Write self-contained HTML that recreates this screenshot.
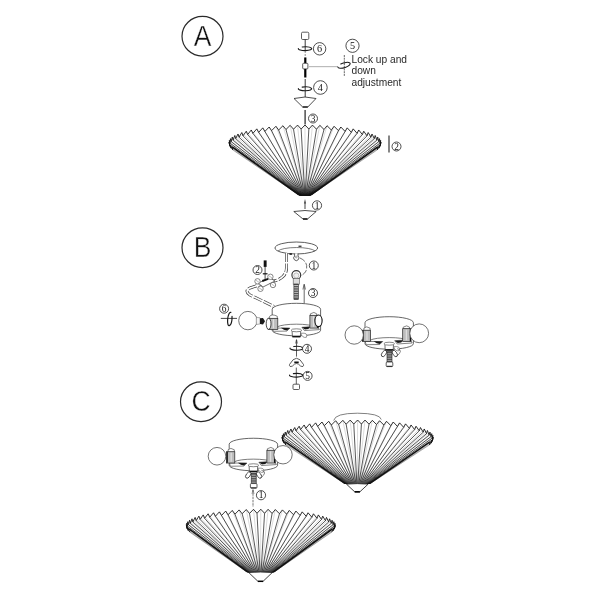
<!DOCTYPE html>
<html><head><meta charset="utf-8"><style>
html,body{margin:0;padding:0;background:#fff;width:600px;height:600px;overflow:hidden}
svg{display:block;will-change:transform}
</style></head><body>
<svg width="600" height="600" viewBox="0 0 600 600">
<defs><linearGradient id="tipg" x1="0" y1="0" x2="0" y2="1"><stop offset="0" stop-color="#000" stop-opacity="0"/><stop offset="0.6" stop-color="#000" stop-opacity="0.25"/><stop offset="1" stop-color="#000" stop-opacity="0.7"/></linearGradient></defs>
<rect width="600" height="600" fill="#fff"/>
<ellipse cx="202.5" cy="36.25" rx="20.5" ry="19.8" fill="none" stroke="#2a2a2a" stroke-width="1.2"/>
<g transform="translate(202.5 45.85) scale(1 1.08)"><text x="0" y="0" font-family="Liberation Sans" font-size="26.5" text-anchor="middle" fill="#111" stroke="#fff" stroke-width="0.35">A</text></g>
<ellipse cx="202.5" cy="247.75" rx="20.5" ry="19.8" fill="none" stroke="#2a2a2a" stroke-width="1.2"/>
<g transform="translate(202.5 257.35) scale(1 1.08)"><text x="0" y="0" font-family="Liberation Sans" font-size="26.5" text-anchor="middle" fill="#111" stroke="#fff" stroke-width="0.35">B</text></g>
<ellipse cx="201" cy="401.75" rx="20.5" ry="19.8" fill="none" stroke="#2a2a2a" stroke-width="1.2"/>
<g transform="translate(201 411.35) scale(1 1.08)"><text x="0" y="0" font-family="Liberation Sans" font-size="26.5" text-anchor="middle" fill="#111" stroke="#fff" stroke-width="0.35">C</text></g>
<clipPath id="shc1"><rect x="0" y="0" width="600" height="195.4"/></clipPath>
<g clip-path="url(#shc1)">
<path d="M377.73 146.93L305 199.2M379.54 145.32L305 199.2M380.63 143.67L305 199.2M381 142L305 199.2M380.63 140.33L305 199.2M379.54 138.68L305 199.2M377.73 137.07L305 199.2M375.21 135.49L305 199.2M372.03 133.99L305 199.2M368.19 132.56L305 199.2M363.75 131.22L305 199.2M358.74 129.98L305 199.2M353.21 128.86L305 199.2M347.22 127.87L305 199.2M340.83 127.01L305 199.2M334.08 126.29L305 199.2M327.06 125.73L305 199.2M319.83 125.33L305 199.2M312.45 125.08L305 199.2M305 125L305 199.2M297.55 125.08L305 199.2M290.17 125.33L305 199.2M282.94 125.73L305 199.2M275.92 126.29L305 199.2M269.17 127.01L305 199.2M262.78 127.87L305 199.2M256.79 128.86L305 199.2M251.26 129.98L305 199.2M246.25 131.22L305 199.2M241.81 132.56L305 199.2M237.97 133.99L305 199.2M234.79 135.49L305 199.2M232.27 137.07L305 199.2M230.46 138.68L305 199.2M229.37 140.33L305 199.2M229 142L305 199.2M229.37 143.67L305 199.2M230.46 145.32L305 199.2M232.27 146.93L305 199.2" fill="none" stroke="#b8b8b8" stroke-width="0.5"/>
<path d="M380.37 144.72L305 199.2M379.95 143.17L305 199.2M378.79 141.63L305 199.2M376.9 140.11L305 199.2M374.29 138.63L305 199.2M370.98 137.2L305 199.2M366.99 135.85L305 199.2M362.36 134.59L305 199.2M357.13 133.42L305 199.2M351.36 132.37L305 199.2M345.1 131.45L305 199.2M338.41 130.66L305 199.2M331.36 130.02L305 199.2M324.04 129.53L305 199.2M316.5 129.21L305 199.2M308.85 129.04L305 199.2M301.15 129.04L305 199.2M293.5 129.21L305 199.2M285.96 129.53L305 199.2M278.64 130.02L305 199.2M271.59 130.66L305 199.2M264.9 131.45L305 199.2M258.64 132.37L305 199.2M252.87 133.42L305 199.2M247.64 134.59L305 199.2M243.01 135.85L305 199.2M239.02 137.2L305 199.2M235.71 138.63L305 199.2M233.1 140.11L305 199.2M231.21 141.63L305 199.2M230.05 143.17L305 199.2M229.63 144.72L305 199.2" fill="none" stroke="#111" stroke-width="0.7"/>
<path d="M377.31 149.88L305 199.2M379.04 148.15L305 199.2M380.06 146.39L305 199.2M229.94 146.39L305 199.2M230.96 148.15L305 199.2M232.69 149.88L305 199.2" fill="none" stroke="#777" stroke-width="0.5"/>
<path d="M274.39 177.2 L335.61 177.2 L305 199.2 Z" fill="url(#tipg)"/>
<path d="M232.43 147.05 L305 199.2 L377.57 147.05" fill="none" stroke="#111" stroke-width="1.5" stroke-linejoin="round"/>
</g>
<path d="M377.73 146.93 L377.31 149.88 L379.54 145.32 L379.04 148.15 L380.63 143.67 L380.06 146.39 L381 142 L380.37 144.72 L380.63 140.33 L379.95 143.17 L379.54 138.68 L378.79 141.63 L377.73 137.07 L376.9 140.11 L375.21 135.49 L374.29 138.63 L372.03 133.99 L370.98 137.2 L368.19 132.56 L366.99 135.85 L363.75 131.22 L362.36 134.59 L358.74 129.98 L357.13 133.42 L353.21 128.86 L351.36 132.37 L347.22 127.87 L345.1 131.45 L340.83 127.01 L338.41 130.66 L334.08 126.29 L331.36 130.02 L327.06 125.73 L324.04 129.53 L319.83 125.33 L316.5 129.21 L312.45 125.08 L308.85 129.04 L305 125 L301.15 129.04 L297.55 125.08 L293.5 129.21 L290.17 125.33 L285.96 129.53 L282.94 125.73 L278.64 130.02 L275.92 126.29 L271.59 130.66 L269.17 127.01 L264.9 131.45 L262.78 127.87 L258.64 132.37 L256.79 128.86 L252.87 133.42 L251.26 129.98 L247.64 134.59 L246.25 131.22 L243.01 135.85 L241.81 132.56 L239.02 137.2 L237.97 133.99 L235.71 138.63 L234.79 135.49 L233.1 140.11 L232.27 137.07 L231.21 141.63 L230.46 138.68 L230.05 143.17 L229.37 140.33 L229.63 144.72 L229 142 L229.94 146.39 L229.37 143.67 L230.96 148.15 L230.46 145.32 L232.69 149.88 L232.27 146.93" fill="none" stroke="#111" stroke-width="0.85" stroke-linejoin="miter" stroke-miterlimit="10"/>
<path d="M298.75 194.2 Q299.95 195.4 301.45 195.4 L308.55 195.4 Q310.05 195.4 311.25 194.2" fill="none" stroke="#111" stroke-width="1.4"/>
<clipPath id="shc2"><rect x="0" y="0" width="600" height="484.1"/></clipPath>
<g clip-path="url(#shc2)">
<path d="M429.94 441.93L357.3 492M431.75 440.32L357.3 492M432.84 438.67L357.3 492M433.2 437L357.3 492M432.84 435.33L357.3 492M431.75 433.68L357.3 492M429.94 432.07L357.3 492M427.45 430.49L357.3 492M424.27 428.99L357.3 492M420.46 427.56L357.3 492M416.04 426.22L357.3 492M411.06 424.98L357.3 492M405.56 423.86L357.3 492M399.6 422.87L357.3 492M393.24 422.01L357.3 492M386.53 421.29L357.3 492M379.55 420.73L357.3 492M372.35 420.33L357.3 492M365.01 420.08L357.3 492M357.6 420L357.3 492M350.19 420.08L357.3 492M342.85 420.33L357.3 492M335.65 420.73L357.3 492M328.67 421.29L357.3 492M321.96 422.01L357.3 492M315.6 422.87L357.3 492M309.64 423.86L357.3 492M304.14 424.98L357.3 492M299.16 426.22L357.3 492M294.74 427.56L357.3 492M290.93 428.99L357.3 492M287.75 430.49L357.3 492M285.26 432.07L357.3 492M283.45 433.68L357.3 492M282.36 435.33L357.3 492M282 437L357.3 492M282.36 438.67L357.3 492M283.45 440.32L357.3 492M285.26 441.93L357.3 492" fill="none" stroke="#b8b8b8" stroke-width="0.5"/>
<path d="M432.57 439.72L357.3 492M432.15 438.17L357.3 492M431 436.63L357.3 492M429.12 435.11L357.3 492M426.52 433.63L357.3 492M423.23 432.2L357.3 492M419.26 430.85L357.3 492M414.65 429.59L357.3 492M409.46 428.42L357.3 492M403.71 427.37L357.3 492M397.48 426.45L357.3 492M390.83 425.66L357.3 492M383.82 425.02L357.3 492M376.54 424.53L357.3 492M369.04 424.21L357.3 492M361.43 424.04L357.3 492M353.77 424.04L357.3 492M346.16 424.21L357.3 492M338.66 424.53L357.3 492M331.38 425.02L357.3 492M324.37 425.66L357.3 492M317.72 426.45L357.3 492M311.49 427.37L357.3 492M305.74 428.42L357.3 492M300.55 429.59L357.3 492M295.94 430.85L357.3 492M291.97 432.2L357.3 492M288.68 433.63L357.3 492M286.08 435.11L357.3 492M284.2 436.63L357.3 492M283.05 438.17L357.3 492M282.63 439.72L357.3 492" fill="none" stroke="#111" stroke-width="0.7"/>
<path d="M429.53 444.88L357.3 492M431.25 443.15L357.3 492M432.27 441.39L357.3 492M282.93 441.39L357.3 492M283.95 443.15L357.3 492M285.67 444.88L357.3 492" fill="none" stroke="#777" stroke-width="0.5"/>
<path d="M325.64 470 L389.23 470 L357.3 492 Z" fill="url(#tipg)"/>
<path d="M285.7 442.25 L357.3 492 L429.5 442.25" fill="none" stroke="#111" stroke-width="1.5" stroke-linejoin="round"/>
</g>
<path d="M429.94 441.93 L429.53 444.88 L431.75 440.32 L431.25 443.15 L432.84 438.67 L432.27 441.39 L433.2 437 L432.57 439.72 L432.84 435.33 L432.15 438.17 L431.75 433.68 L431 436.63 L429.94 432.07 L429.12 435.11 L427.45 430.49 L426.52 433.63 L424.27 428.99 L423.23 432.2 L420.46 427.56 L419.26 430.85 L416.04 426.22 L414.65 429.59 L411.06 424.98 L409.46 428.42 L405.56 423.86 L403.71 427.37 L399.6 422.87 L397.48 426.45 L393.24 422.01 L390.83 425.66 L386.53 421.29 L383.82 425.02 L379.55 420.73 L376.54 424.53 L372.35 420.33 L369.04 424.21 L365.01 420.08 L361.43 424.04 L357.6 420 L353.77 424.04 L350.19 420.08 L346.16 424.21 L342.85 420.33 L338.66 424.53 L335.65 420.73 L331.38 425.02 L328.67 421.29 L324.37 425.66 L321.96 422.01 L317.72 426.45 L315.6 422.87 L311.49 427.37 L309.64 423.86 L305.74 428.42 L304.14 424.98 L300.55 429.59 L299.16 426.22 L295.94 430.85 L294.74 427.56 L291.97 432.2 L290.93 428.99 L288.68 433.63 L287.75 430.49 L286.08 435.11 L285.26 432.07 L284.2 436.63 L283.45 433.68 L283.05 438.17 L282.36 435.33 L282.63 439.72 L282 437 L282.93 441.39 L282.36 438.67 L283.95 443.15 L283.45 440.32 L285.67 444.88 L285.26 441.93" fill="none" stroke="#111" stroke-width="0.85" stroke-linejoin="miter" stroke-miterlimit="10"/>
<path d="M346.44 484.1 Q357.3 483.1 368.16 484.1 L359.7 492 L354.9 492 Z" fill="#fff" stroke="#111" stroke-width="0.8" stroke-linejoin="round"/>
<line x1="354.7" y1="491.8" x2="359.9" y2="491.8" stroke="#000" stroke-width="1.5"/>
<clipPath id="shc3"><rect x="0" y="0" width="600" height="572.5"/></clipPath>
<g clip-path="url(#shc3)">
<path d="M333.87 527.77L260.5 581.5M334.94 526.27L260.5 581.5M335.3 524.75L260.5 581.5M334.94 523.23L260.5 581.5M333.87 521.73L260.5 581.5M332.09 520.25L260.5 581.5M329.63 518.82L260.5 581.5M326.5 517.44L260.5 581.5M322.74 516.14L260.5 581.5M318.39 514.92L260.5 581.5M313.48 513.79L260.5 581.5M308.06 512.77L260.5 581.5M302.19 511.86L260.5 581.5M295.92 511.08L260.5 581.5M289.31 510.43L260.5 581.5M282.43 509.92L260.5 581.5M275.33 509.55L260.5 581.5M268.1 509.32L260.5 581.5M260.8 509.25L260.5 581.5M253.5 509.32L260.5 581.5M246.27 509.55L260.5 581.5M239.17 509.92L260.5 581.5M232.29 510.43L260.5 581.5M225.68 511.08L260.5 581.5M219.41 511.86L260.5 581.5M213.54 512.77L260.5 581.5M208.12 513.79L260.5 581.5M203.21 514.92L260.5 581.5M198.86 516.14L260.5 581.5M195.1 517.44L260.5 581.5M191.97 518.82L260.5 581.5M189.51 520.25L260.5 581.5M187.73 521.73L260.5 581.5M186.66 523.23L260.5 581.5M186.3 524.75L260.5 581.5M186.66 526.27L260.5 581.5M187.73 527.77L260.5 581.5" fill="none" stroke="#b8b8b8" stroke-width="0.5"/>
<path d="M334.67 527.49L260.5 581.5M334.26 526.08L260.5 581.5M333.12 524.68L260.5 581.5M331.27 523.31L260.5 581.5M328.71 521.97L260.5 581.5M325.46 520.68L260.5 581.5M321.55 519.45L260.5 581.5M317.02 518.31L260.5 581.5M311.9 517.26L260.5 581.5M306.24 516.31L260.5 581.5M300.1 515.47L260.5 581.5M293.54 514.76L260.5 581.5M286.64 514.18L260.5 581.5M279.46 513.73L260.5 581.5M272.08 513.44L260.5 581.5M264.57 513.29L260.5 581.5M257.03 513.29L260.5 581.5M249.52 513.44L260.5 581.5M242.14 513.73L260.5 581.5M234.96 514.18L260.5 581.5M228.06 514.76L260.5 581.5M221.5 515.47L260.5 581.5M215.36 516.31L260.5 581.5M209.7 517.26L260.5 581.5M204.58 518.31L260.5 581.5M200.05 519.45L260.5 581.5M196.14 520.68L260.5 581.5M192.89 521.97L260.5 581.5M190.33 523.31L260.5 581.5M188.48 524.68L260.5 581.5M187.34 526.08L260.5 581.5M186.93 527.49L260.5 581.5" fill="none" stroke="#111" stroke-width="0.7"/>
<path d="M331.67 532.2L260.5 581.5M333.37 530.62L260.5 581.5M334.37 529.01L260.5 581.5M187.23 529.01L260.5 581.5M188.23 530.62L260.5 581.5M189.93 532.2L260.5 581.5" fill="none" stroke="#777" stroke-width="0.5"/>
<path d="M230.6 559.5 L290.65 559.5 L260.5 581.5 Z" fill="url(#tipg)"/>
<path d="M189.13 528.98 L260.5 581.5 L332.47 528.98" fill="none" stroke="#111" stroke-width="1.5" stroke-linejoin="round"/>
</g>
<path d="M331.67 532.2 L333.87 527.77 L333.37 530.62 L334.94 526.27 L334.37 529.01 L335.3 524.75 L334.67 527.49 L334.94 523.23 L334.26 526.08 L333.87 521.73 L333.12 524.68 L332.09 520.25 L331.27 523.31 L329.63 518.82 L328.71 521.97 L326.5 517.44 L325.46 520.68 L322.74 516.14 L321.55 519.45 L318.39 514.92 L317.02 518.31 L313.48 513.79 L311.9 517.26 L308.06 512.77 L306.24 516.31 L302.19 511.86 L300.1 515.47 L295.92 511.08 L293.54 514.76 L289.31 510.43 L286.64 514.18 L282.43 509.92 L279.46 513.73 L275.33 509.55 L272.08 513.44 L268.1 509.32 L264.57 513.29 L260.8 509.25 L257.03 513.29 L253.5 509.32 L249.52 513.44 L246.27 509.55 L242.14 513.73 L239.17 509.92 L234.96 514.18 L232.29 510.43 L228.06 514.76 L225.68 511.08 L221.5 515.47 L219.41 511.86 L215.36 516.31 L213.54 512.77 L209.7 517.26 L208.12 513.79 L204.58 518.31 L203.21 514.92 L200.05 519.45 L198.86 516.14 L196.14 520.68 L195.1 517.44 L192.89 521.97 L191.97 518.82 L190.33 523.31 L189.51 520.25 L188.48 524.68 L187.73 521.73 L187.34 526.08 L186.66 523.23 L186.93 527.49 L186.3 524.75 L187.23 529.01 L186.66 526.27 L188.23 530.62 L187.73 527.77 L189.93 532.2" fill="none" stroke="#111" stroke-width="0.85" stroke-linejoin="miter" stroke-miterlimit="10"/>
<path d="M248.69 572.5 Q260.5 571.5 272.31 572.5 L262.9 581.5 L258.1 581.5 Z" fill="#fff" stroke="#111" stroke-width="0.8" stroke-linejoin="round"/>
<line x1="257.9" y1="581.3" x2="263.1" y2="581.3" stroke="#000" stroke-width="1.5"/>
<rect x="301.5" y="32.2" width="7.3" height="7.3" rx="1.2" fill="#fff" stroke="#333" stroke-width="0.8"/>
<line x1="305.2" y1="39.5" x2="305.2" y2="51" stroke="#222" stroke-width="0.9"/>
<line x1="305.2" y1="51" x2="305.2" y2="57.5" stroke="#888" stroke-width="0.9" stroke-dasharray="2 1"/>
<path transform="translate(305 48.7) rotate(0)" d="M-2.83 -1.72 A6.7 1.9 0 1 1 -6.67 -0.17" fill="none" stroke="#1a1a1a" stroke-width="1.1" stroke-linecap="round"/>
<rect x="304.2" y="57.5" width="2.2" height="5.8" fill="#000"/>
<rect x="302.7" y="63.3" width="5.2" height="5.6" rx="0.8" fill="#fff" stroke="#333" stroke-width="0.8"/>
<rect x="304.2" y="69" width="2.2" height="8.5" fill="#000"/>
<line x1="308" y1="66.6" x2="338" y2="66.6" stroke="#bbb" stroke-width="1.2"/>
<line x1="344.3" y1="55" x2="344.3" y2="76" stroke="#666" stroke-width="1" stroke-dasharray="2 0.7"/>
<path transform="translate(344 65.3) rotate(-17)" d="M-2.7 -2.18 A6.4 2.4 0 1 1 -6.38 -0.21" fill="none" stroke="#1a1a1a" stroke-width="1.1" stroke-linecap="round"/>
<line x1="305.2" y1="79" x2="305.2" y2="98" stroke="#222" stroke-width="0.9"/>
<path transform="translate(305 88.8) rotate(0)" d="M-2.83 -1.72 A6.7 1.9 0 1 1 -6.67 -0.17" fill="none" stroke="#1a1a1a" stroke-width="1.1" stroke-linecap="round"/>
<path d="M294 98.5 Q305 95.5 316 98.5 L307.8 107 L302.7 107 Z" fill="#fff" stroke="#222" stroke-width="0.8"/>
<line x1="302.7" y1="107" x2="307.8" y2="107" stroke="#222" stroke-width="1.4"/>
<line x1="305.1" y1="110" x2="305.1" y2="124.5" stroke="#333" stroke-width="1.3"/>
<line x1="389" y1="135.5" x2="389" y2="152.5" stroke="#444" stroke-width="1.3"/>
<path d="M305 199 L306.1 203.5 L305.5 203.5 L305.5 209 L304.5 209 L304.5 203.5 L303.9 203.5 Z" fill="#444"/>
<path d="M293.8 211.5 Q305 209.5 316.2 211.5 L307.5 219 L303 219 Z" fill="#fff" stroke="#222" stroke-width="0.8"/>
<line x1="303" y1="219" x2="307.5" y2="219" stroke="#111" stroke-width="1.5"/>
<circle cx="319.6" cy="48.8" r="6.2" fill="#fff" stroke="#222" stroke-width="0.8"/>
<text x="319.6" y="52.27" font-family="Liberation Serif" font-size="10.2"  text-anchor="middle" fill="#111">6</text>
<circle cx="352.5" cy="45.8" r="6.6" fill="#fff" stroke="#222" stroke-width="0.8"/>
<text x="352.5" y="49.27" font-family="Liberation Serif" font-size="10.2"  text-anchor="middle" fill="#111">5</text>
<circle cx="320.4" cy="87.5" r="6.8" fill="#fff" stroke="#222" stroke-width="0.8"/>
<text x="320.4" y="90.97" font-family="Liberation Serif" font-size="10.2"  text-anchor="middle" fill="#111">4</text>
<circle cx="313" cy="118.5" r="4.5" fill="#fff" stroke="#222" stroke-width="0.8"/>
<text x="313" y="121.7" font-family="Liberation Serif" font-size="9.4"  text-anchor="middle" fill="#111">3</text>
<circle cx="396.5" cy="146.5" r="4.5" fill="#fff" stroke="#222" stroke-width="0.8"/>
<text x="396.5" y="149.7" font-family="Liberation Serif" font-size="9.4"  text-anchor="middle" fill="#111">2</text>
<circle cx="317" cy="205.4" r="4.6" fill="#fff" stroke="#222" stroke-width="0.8"/>
<text x="317" y="208.6" font-family="Liberation Serif" font-size="9.4"  text-anchor="middle" fill="#111">1</text>
<text font-family="Liberation Sans" font-size="10.2" fill="#2a2a2a"><tspan x="351.5" y="62.9">Lock up and</tspan><tspan x="351.5" y="74.4">down</tspan><tspan x="351.5" y="85.9">adjustment</tspan></text>
<ellipse cx="296.3" cy="248" rx="21.3" ry="6" fill="#fff" stroke="#333" stroke-width="0.8"/>
<path d="M278 251 A19 4.5 0 0 1 315 251" fill="none" stroke="#444" stroke-width="0.7"/>
<rect x="298.5" y="245.6" width="3" height="1.3" fill="#333"/>
<path d="M286.5 253 L286.5 268 Q286.5 277 276 280.5 L262 284 L250 288 Q244 291 250 295 L274 306.5" fill="none" stroke="#444" stroke-width="3" stroke-dasharray="9 1.5"/>
<path d="M286.5 253 L286.5 268 Q286.5 277 276 280.5 L262 284 L250 288 Q244 291 250 295 L274 306.5" fill="none" stroke="#fff" stroke-width="1.6"/>
<rect x="289.5" y="253.3" width="2.4" height="1.5" fill="#111"/>
<path d="M294.6 253.5 L294.6 256 A2.6 2.6 0 1 0 298 256 L298 253.5" fill="#fff" stroke="#333" stroke-width="0.8"/>
<circle cx="296.3" cy="257" r="0.9" fill="none" stroke="#555" stroke-width="0.5"/>
<path d="M300 258 Q309 262 306 271 Q304 275 299 276" fill="none" stroke="#333" stroke-width="0.7" stroke-dasharray="6 1.5"/>
<circle cx="296.3" cy="275" r="4.4" fill="#fff" stroke="#333" stroke-width="1.1"/>
<circle cx="296.3" cy="275.5" r="2.6" fill="#eee" stroke="#999" stroke-width="0.6"/>
<rect x="293.2" y="278.6" width="6.2" height="5.6" fill="#ddd" stroke="#555" stroke-width="0.6"/>
<rect x="293.9" y="284" width="4.6" height="15.6" fill="#555" stroke="#222" stroke-width="0.5"/>
<line x1="294.2" y1="285.5" x2="298.2" y2="285.5" stroke="#eee" stroke-width="0.7"/>
<line x1="294.2" y1="287.8" x2="298.2" y2="287.8" stroke="#eee" stroke-width="0.7"/>
<line x1="294.2" y1="290.1" x2="298.2" y2="290.1" stroke="#eee" stroke-width="0.7"/>
<line x1="294.2" y1="292.4" x2="298.2" y2="292.4" stroke="#eee" stroke-width="0.7"/>
<line x1="294.2" y1="294.7" x2="298.2" y2="294.7" stroke="#eee" stroke-width="0.7"/>
<line x1="294.2" y1="297" x2="298.2" y2="297" stroke="#eee" stroke-width="0.7"/>
<line x1="304.2" y1="285" x2="304.2" y2="303.3" stroke="#444" stroke-width="0.8"/>
<path d="M302.9 289.5 L304.2 284 L305.5 289.5" fill="none" stroke="#444" stroke-width="0.7"/>
<rect x="263.7" y="260.4" width="2.9" height="6.5" fill="#111"/>
<line x1="265.1" y1="266" x2="265.1" y2="279" stroke="#222" stroke-width="0.8"/>
<line x1="262.8" y1="273.8" x2="267.5" y2="273.8" stroke="#111" stroke-width="1.2"/>
<path d="M258 283 L270 278 L275 281 L263 287 Z" fill="#fff" stroke="#333" stroke-width="0.7"/>
<path d="M262 280 L268 278 L268.5 279.8 L262.5 282 Z" fill="#111"/>
<circle cx="257.5" cy="281.3" r="2.7" fill="#fff" stroke="#555" stroke-width="0.7"/>
<line x1="256" y1="280.3" x2="259" y2="282.3" stroke="#777" stroke-width="0.5"/>
<circle cx="260.5" cy="288.8" r="2.7" fill="#fff" stroke="#555" stroke-width="0.7"/>
<line x1="259" y1="287.8" x2="262" y2="289.8" stroke="#777" stroke-width="0.5"/>
<circle cx="270.4" cy="276.8" r="2.7" fill="#fff" stroke="#555" stroke-width="0.7"/>
<line x1="268.9" y1="275.8" x2="271.9" y2="277.8" stroke="#777" stroke-width="0.5"/>
<circle cx="273" cy="285" r="2.7" fill="#fff" stroke="#555" stroke-width="0.7"/>
<line x1="271.5" y1="284" x2="274.5" y2="286" stroke="#777" stroke-width="0.5"/>
<path d="M272.2 309.3 A24.2 6 0 0 1 320.6 309.3 L320.6 330.3 A24.2 5.5 0 0 1 272.2 330.3 Z" fill="#fff" stroke="#333" stroke-width="0.75"/>
<path d="M277.4 326.8 A20 3.8 0 0 1 315.4 326.8" fill="none" stroke="#444" stroke-width="0.7"/>
<path d="M272.4 328.1 L289.9 328.1 L286.9 331.1 L273.4 331.3 Z" fill="#fff" stroke="#333" stroke-width="0.6"/>
<path d="M280.9 327.8 L289.9 328.1 L286.9 330.6 L283.9 329.8 Z" fill="#1a1a1a"/>
<path d="M301.9 327.3 L317.4 326.3 L319.4 329.6 L304.4 330.6 Z" fill="#fff" stroke="#333" stroke-width="0.6"/>
<path d="M301.9 327.3 L310.4 326.8 L308.4 329.1 L304.9 329.6 Z" fill="#1a1a1a"/>
<path d="M269.6 318.8 L269.6 316.3 Q272.1 313.6 277.3 316.3 L277.3 318.8 Z" fill="#fff" stroke="#333" stroke-width="0.6"/>
<rect x="268.1" y="318.3" width="9.7" height="11.3" fill="#bdbdbd" stroke="#222" stroke-width="0.7"/>
<line x1="273.45" y1="319.3" x2="273.45" y2="328.3" stroke="#e0e0e0" stroke-width="1.2"/>
<line x1="268.7" y1="318.4" x2="268.7" y2="329.4" stroke="#111" stroke-width="1.3"/>
<ellipse cx="268.6" cy="323.8" rx="2.4" ry="5.6" fill="#fff" stroke="#222" stroke-width="0.8"/>
<path d="M310.4 315.8 L310.4 313.8 Q314.2 311.1 316.7 313.8 L316.7 315.8 Z" fill="#fff" stroke="#333" stroke-width="0.6"/>
<rect x="309.9" y="315.3" width="8.3" height="12.8" fill="#bdbdbd" stroke="#222" stroke-width="0.7"/>
<line x1="313.55" y1="316.3" x2="313.55" y2="326.8" stroke="#e0e0e0" stroke-width="1.2"/>
<line x1="317.6" y1="315.4" x2="317.6" y2="327.9" stroke="#111" stroke-width="1.3"/>
<ellipse cx="318.5" cy="320.8" rx="3.6" ry="5.8" fill="#fff" stroke="#111" stroke-width="1.1"/>
<path d="M292.1 330.8 L300.7 330.8 L300.4 336.8 L292.4 336.8 Z" fill="#fff" stroke="#333" stroke-width="0.7"/>
<ellipse cx="296.4" cy="330.3" rx="5.3" ry="1.5" fill="#fff" stroke="#555" stroke-width="0.7"/>
<rect x="292.4" y="335.7" width="8" height="1.6" fill="#111"/>
<path d="M300.9 333.3 Q308.4 332.3 306.4 337.3 Q302.4 338.3 300.9 333.3" fill="#fff" stroke="#555" stroke-width="0.6"/>
<circle cx="247.9" cy="320.6" r="9.2" fill="#fff" stroke="#444" stroke-width="0.75"/>
<path d="M256.3 317.3 L260 317.8 L260 324 L256.3 324.5 Z" fill="#f4f4f4" stroke="#666" stroke-width="0.5"/>
<path d="M260 318.3 L263 318 L265 321.2 L263 324.4 L260 324 Z" fill="#1a1a1a"/>
<line x1="220.8" y1="318.4" x2="237" y2="318.4" stroke="#333" stroke-width="0.9"/>
<path transform="translate(229.8 319) rotate(97)" d="M-2.83 -1.9 A6.7 2.1 0 1 1 -6.67 -0.18" fill="none" stroke="#1a1a1a" stroke-width="1.2" stroke-linecap="round"/>
<line x1="296.5" y1="340" x2="296.5" y2="356.6" stroke="#333" stroke-width="0.8"/>
<path d="M295.5 343.5 L296.5 339.5 L297.5 343.5" fill="none" stroke="#333" stroke-width="0.6"/>
<path transform="translate(296.5 348.3) rotate(0)" d="M-2.75 -1.72 A6.5 1.9 0 1 1 -6.48 -0.17" fill="none" stroke="#1a1a1a" stroke-width="1.1" stroke-linecap="round"/>
<path d="M289.5 364.5 Q296.5 352 303.5 364.5 Q304 367.5 300.5 366 Q296.5 361 292.5 366 Q289 367.5 289.5 364.5 Z" fill="#fff" stroke="#333" stroke-width="0.8"/>
<rect x="294.3" y="361.5" width="4.4" height="1.6" fill="#111"/>
<line x1="296.3" y1="367.6" x2="296.3" y2="384.5" stroke="#333" stroke-width="0.8"/>
<path transform="translate(296.2 375.3) rotate(0)" d="M-2.83 -1.63 A6.7 1.8 0 1 1 -6.67 -0.16" fill="none" stroke="#1a1a1a" stroke-width="1.1" stroke-linecap="round"/>
<rect x="293" y="384.2" width="6.5" height="5.3" rx="1" fill="#fff" stroke="#333" stroke-width="0.8"/>
<circle cx="257.5" cy="270" r="4.5" fill="#fff" stroke="#222" stroke-width="0.8"/>
<text x="257.5" y="273.2" font-family="Liberation Serif" font-size="9.4"  text-anchor="middle" fill="#111">2</text>
<circle cx="313.8" cy="265.5" r="4.5" fill="#fff" stroke="#222" stroke-width="0.8"/>
<text x="313.8" y="268.7" font-family="Liberation Serif" font-size="9.4"  text-anchor="middle" fill="#111">1</text>
<circle cx="313" cy="293" r="4.5" fill="#fff" stroke="#222" stroke-width="0.8"/>
<text x="313" y="296.2" font-family="Liberation Serif" font-size="9.4"  text-anchor="middle" fill="#111">3</text>
<circle cx="224.1" cy="308.7" r="4.5" fill="#fff" stroke="#222" stroke-width="0.8"/>
<text x="224.1" y="311.9" font-family="Liberation Serif" font-size="9.4"  text-anchor="middle" fill="#111">6</text>
<circle cx="307" cy="348.8" r="4.5" fill="#fff" stroke="#222" stroke-width="0.8"/>
<text x="307" y="352" font-family="Liberation Serif" font-size="9.4"  text-anchor="middle" fill="#111">4</text>
<circle cx="307.6" cy="375.9" r="4.5" fill="#fff" stroke="#222" stroke-width="0.8"/>
<text x="307.6" y="379.1" font-family="Liberation Serif" font-size="9.4"  text-anchor="middle" fill="#111">5</text>
<path d="M365 322.7 A24.2 6 0 0 1 413.4 322.7 L413.4 343.7 A24.2 5.5 0 0 1 365 343.7 Z" fill="#fff" stroke="#333" stroke-width="0.75"/>
<path d="M370.2 340.2 A20 3.8 0 0 1 408.2 340.2" fill="none" stroke="#444" stroke-width="0.7"/>
<path d="M365.2 341.5 L382.7 341.5 L379.7 344.5 L366.2 344.7 Z" fill="#fff" stroke="#333" stroke-width="0.6"/>
<path d="M373.7 341.2 L382.7 341.5 L379.7 344 L376.7 343.2 Z" fill="#1a1a1a"/>
<path d="M394.7 340.7 L410.2 339.7 L412.2 343 L397.2 344 Z" fill="#fff" stroke="#333" stroke-width="0.6"/>
<path d="M394.7 340.7 L403.2 340.2 L401.2 342.5 L397.7 343 Z" fill="#1a1a1a"/>
<path d="M363.9 330.7 L363.9 328.2 Q366.4 325.5 370.1 328.2 L370.1 330.7 Z" fill="#fff" stroke="#333" stroke-width="0.6"/>
<rect x="362.4" y="330.2" width="8.2" height="11.3" fill="#bdbdbd" stroke="#222" stroke-width="0.7"/>
<line x1="367" y1="331.2" x2="367" y2="340.2" stroke="#e0e0e0" stroke-width="1.2"/>
<line x1="363" y1="330.3" x2="363" y2="341.3" stroke="#111" stroke-width="1.3"/>
<path d="M403.2 329.2 L403.2 327.2 Q407 324.5 409.5 327.2 L409.5 329.2 Z" fill="#fff" stroke="#333" stroke-width="0.6"/>
<rect x="402.7" y="328.7" width="8.3" height="12.8" fill="#bdbdbd" stroke="#222" stroke-width="0.7"/>
<line x1="406.35" y1="329.7" x2="406.35" y2="340.2" stroke="#e0e0e0" stroke-width="1.2"/>
<line x1="410.4" y1="328.8" x2="410.4" y2="341.3" stroke="#111" stroke-width="1.3"/>
<path d="M384.9 344.2 L393.5 344.2 L393.2 350.2 L385.2 350.2 Z" fill="#fff" stroke="#333" stroke-width="0.7"/>
<ellipse cx="389.2" cy="343.7" rx="5.3" ry="1.5" fill="#fff" stroke="#555" stroke-width="0.7"/>
<rect x="385.2" y="349.1" width="8" height="1.6" fill="#111"/>
<path d="M393.7 346.7 Q401.2 345.7 399.2 350.7 Q395.2 351.7 393.7 346.7" fill="#fff" stroke="#555" stroke-width="0.6"/>
<ellipse transform="translate(384 353.5) rotate(35)" cx="0" cy="0" rx="2" ry="3.6" fill="#fff" stroke="#333" stroke-width="0.8"/>
<ellipse transform="translate(394.8 353.5) rotate(-35)" cx="0" cy="0" rx="2" ry="3.6" fill="#fff" stroke="#333" stroke-width="0.8"/>
<rect x="387" y="351.7" width="5" height="10.5" fill="#555" stroke="#222" stroke-width="0.6"/>
<line x1="387.4" y1="353.7" x2="391.6" y2="353.7" stroke="#ddd" stroke-width="0.6"/>
<line x1="387.4" y1="356" x2="391.6" y2="356" stroke="#ddd" stroke-width="0.6"/>
<line x1="387.4" y1="358.3" x2="391.6" y2="358.3" stroke="#ddd" stroke-width="0.6"/>
<line x1="387.4" y1="360.6" x2="391.6" y2="360.6" stroke="#ddd" stroke-width="0.6"/>
<rect x="386.2" y="362" width="6.6" height="4.6" rx="1" fill="#fff" stroke="#333" stroke-width="0.8"/>
<line x1="386.7" y1="366.3" x2="392.2" y2="366.3" stroke="#222" stroke-width="1"/>
<path d="M397.2 348.7 Q404.2 350.2 396.2 356.7" fill="none" stroke="#555" stroke-width="0.7"/>
<circle cx="354.2" cy="335" r="9.2" fill="#fff" stroke="#444" stroke-width="0.75"/>
<circle cx="419.2" cy="333.3" r="9.4" fill="#fff" stroke="#444" stroke-width="0.75"/>
<path d="M229.2 444.25 A24.2 6 0 0 1 277.6 444.25 L277.6 465.25 A24.2 5.5 0 0 1 229.2 465.25 Z" fill="#fff" stroke="#333" stroke-width="0.75"/>
<path d="M234.4 461.75 A20 3.8 0 0 1 272.4 461.75" fill="none" stroke="#444" stroke-width="0.7"/>
<path d="M229.4 463.05 L246.9 463.05 L243.9 466.05 L230.4 466.25 Z" fill="#fff" stroke="#333" stroke-width="0.6"/>
<path d="M237.9 462.75 L246.9 463.05 L243.9 465.55 L240.9 464.75 Z" fill="#1a1a1a"/>
<path d="M258.9 462.25 L274.4 461.25 L276.4 464.55 L261.4 465.55 Z" fill="#fff" stroke="#333" stroke-width="0.6"/>
<path d="M258.9 462.25 L267.4 461.75 L265.4 464.05 L261.9 464.55 Z" fill="#1a1a1a"/>
<path d="M228.1 452.25 L228.1 449.75 Q230.6 447.05 234.3 449.75 L234.3 452.25 Z" fill="#fff" stroke="#333" stroke-width="0.6"/>
<rect x="226.6" y="451.75" width="8.2" height="11.3" fill="#bdbdbd" stroke="#222" stroke-width="0.7"/>
<line x1="231.2" y1="452.75" x2="231.2" y2="461.75" stroke="#e0e0e0" stroke-width="1.2"/>
<line x1="227.2" y1="451.85" x2="227.2" y2="462.85" stroke="#111" stroke-width="1.3"/>
<path d="M267.4 450.75 L267.4 448.75 Q271.2 446.05 273.7 448.75 L273.7 450.75 Z" fill="#fff" stroke="#333" stroke-width="0.6"/>
<rect x="266.9" y="450.25" width="8.3" height="12.8" fill="#bdbdbd" stroke="#222" stroke-width="0.7"/>
<line x1="270.55" y1="451.25" x2="270.55" y2="461.75" stroke="#e0e0e0" stroke-width="1.2"/>
<line x1="274.6" y1="450.35" x2="274.6" y2="462.85" stroke="#111" stroke-width="1.3"/>
<path d="M249.1 465.75 L257.7 465.75 L257.4 471.75 L249.4 471.75 Z" fill="#fff" stroke="#333" stroke-width="0.7"/>
<ellipse cx="253.4" cy="465.25" rx="5.3" ry="1.5" fill="#fff" stroke="#555" stroke-width="0.7"/>
<rect x="249.4" y="470.65" width="8" height="1.6" fill="#111"/>
<path d="M257.9 468.25 Q265.4 467.25 263.4 472.25 Q259.4 473.25 257.9 468.25" fill="#fff" stroke="#555" stroke-width="0.6"/>
<ellipse transform="translate(248.2 475.05) rotate(35)" cx="0" cy="0" rx="2" ry="3.6" fill="#fff" stroke="#333" stroke-width="0.8"/>
<ellipse transform="translate(259 475.05) rotate(-35)" cx="0" cy="0" rx="2" ry="3.6" fill="#fff" stroke="#333" stroke-width="0.8"/>
<rect x="251.2" y="473.25" width="5" height="10.5" fill="#555" stroke="#222" stroke-width="0.6"/>
<line x1="251.6" y1="475.25" x2="255.8" y2="475.25" stroke="#ddd" stroke-width="0.6"/>
<line x1="251.6" y1="477.55" x2="255.8" y2="477.55" stroke="#ddd" stroke-width="0.6"/>
<line x1="251.6" y1="479.85" x2="255.8" y2="479.85" stroke="#ddd" stroke-width="0.6"/>
<line x1="251.6" y1="482.15" x2="255.8" y2="482.15" stroke="#ddd" stroke-width="0.6"/>
<rect x="250.4" y="483.55" width="6.6" height="4.6" rx="1" fill="#fff" stroke="#333" stroke-width="0.8"/>
<line x1="250.9" y1="487.85" x2="256.4" y2="487.85" stroke="#222" stroke-width="1"/>
<path d="M261.4 470.25 Q268.4 471.75 260.4 478.25" fill="none" stroke="#555" stroke-width="0.7"/>
<circle cx="217" cy="456.25" r="8.8" fill="#fff" stroke="#444" stroke-width="0.75"/>
<circle cx="283" cy="454.75" r="9.2" fill="#fff" stroke="#444" stroke-width="0.75"/>
<line x1="253" y1="490" x2="253" y2="507" stroke="#555" stroke-width="0.8" stroke-dasharray="2.5 0.8"/>
<path d="M252 494 L253 489.5 L254 494" fill="none" stroke="#555" stroke-width="0.6"/>
<circle cx="261" cy="495.2" r="4.6" fill="#fff" stroke="#222" stroke-width="0.8"/>
<text x="261" y="498.4" font-family="Liberation Serif" font-size="9.4"  text-anchor="middle" fill="#111">1</text>
<path d="M333.7 420.5 Q335 413.2 357.5 413.2 Q380 413.4 381.3 419.5" fill="none" stroke="#555" stroke-width="0.75"/>
</svg></body></html>
